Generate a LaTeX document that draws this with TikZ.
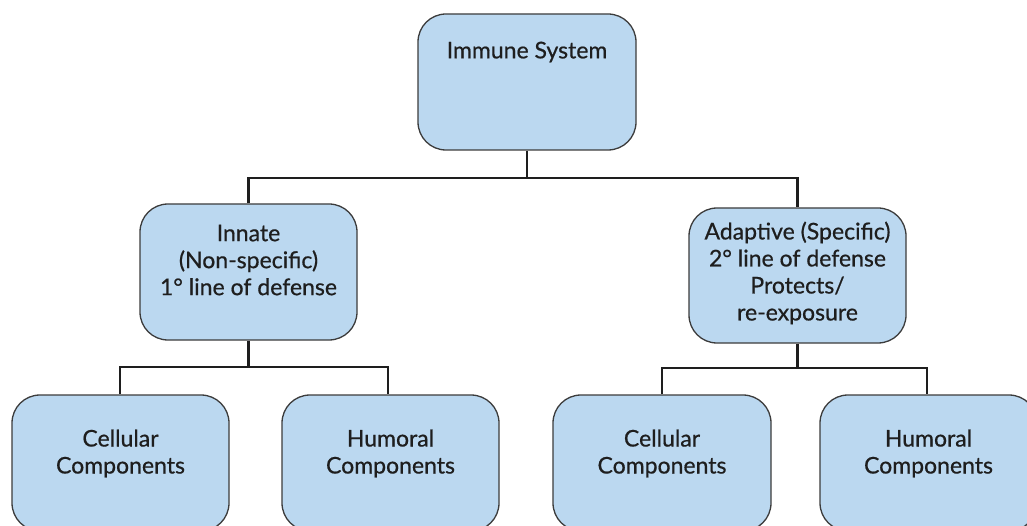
\documentclass[tikz,border=0pt]{standalone}
\usepackage{fontspec}
\setmainfont{Lato}[FakeBold=0.6]
\definecolor{boxfill}{RGB}{187,216,240}
\definecolor{boxline}{RGB}{60,60,60}
\definecolor{ink}{RGB}{30,30,30}
\begin{document}
\begin{tikzpicture}[x=1pt,y=-1pt,
  box/.style={draw=boxline, line width=1.3pt, fill=boxfill, rounded corners=28pt,
    minimum width=217pt, minimum height=136pt, inner sep=0pt},
  txt/.style={align=center, text=ink, font=\fontsize{23}{27}\selectfont, inner sep=0pt},
  conn/.style={draw=ink, line width=2.4pt}]
\useasboundingbox (0,0) rectangle (1027,526);
\clip (0,0) rectangle (1027,526);
% boxes
\node[box, minimum width=218pt] (top) at (527,82) {};
\node[box] (innate) at (248.5,272) {};
\node[box, minimum height=135pt] (adaptive) at (797.5,275.5) {};
\node[box] (cell1) at (120.5,463) {};
\node[box] (hum1) at (390.5,463) {};
\node[box, minimum width=218pt] (cell2) at (662,463) {};
\node[box] (hum2) at (928.5,463) {};
% texts
\node[txt] (ttop) at (527,52) {Immune System};
\node[txt] (tinnate) at (248.5,260) {Innate\\(Non-specific)\\1° line of defense};
\node[txt] (tadaptive) at (797.5,273) {Adaptive (Specific)\\2° line of defense\\Protects/\\re-exposure};
\node[txt] (tcell1) at (120.5,453.5) {Cellular\\Components};
\node[txt] (thum1) at (390.5,453.5) {Humoral\\Components};
\node[txt] (tcell2) at (662,453.5) {Cellular\\Components};
\node[txt] (thum2) at (928.5,453.5) {Humoral\\Components};
% junctions
\coordinate (j0) at (527,178);
\coordinate (j1) at (248.5,367);
\coordinate (j2) at (797.5,368);
% connectors
\draw[conn] (top.south) -- (j0);
\draw[conn] (innate.north) |- (j0) -| (adaptive.north);
\draw[conn] (innate.south) -- (j1);
\draw[conn] ([xshift=-0.5pt]cell1.north) |- (j1) -| ([xshift=-2.5pt]hum1.north);
\draw[conn] (adaptive.south) -- (j2);
\draw[conn] (cell2.north) |- (j2) -| ([xshift=-1.5pt]hum2.north);
\end{tikzpicture}
\end{document}
